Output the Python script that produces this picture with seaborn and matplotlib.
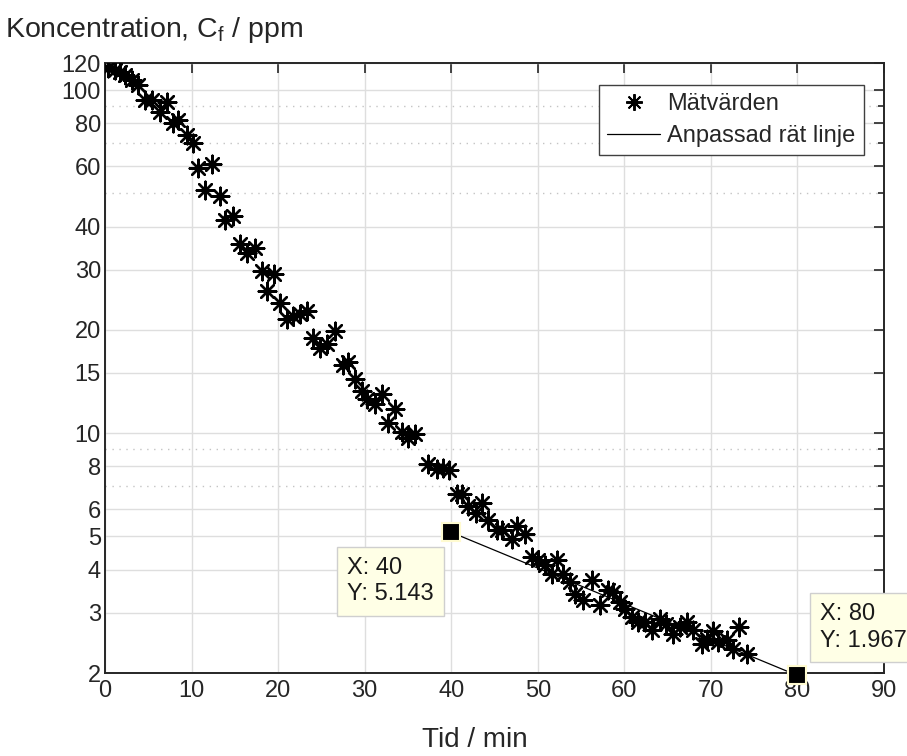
import matplotlib
matplotlib.use("Agg")
import matplotlib.pyplot as plt
from matplotlib.lines import Line2D
from matplotlib.ticker import FixedLocator, NullFormatter
import seaborn as sns

# Measured concentration over time
tid = [0.3, 1.2, 1.7, 2.3, 3.1, 3.8, 4.6, 5.4, 6.4, 7.2, 7.9, 8.4, 9.5, 10.2, 10.7,
       11.6, 12.4, 13.3, 13.9, 14.8, 15.6, 16.4, 17.3, 18.1, 18.7, 19.5, 20.2, 21.0,
       21.7, 22.5, 23.3, 24.0, 24.8, 25.6, 26.6, 27.5, 28.1, 28.9, 29.7, 30.3, 31.2,
       32.0, 32.7, 33.5, 34.3, 35.0, 35.8, 37.3, 38.4, 39.0, 39.8, 40.7, 41.2, 41.9,
       42.9, 43.5, 44.2, 45.3, 45.9, 47.0, 47.6, 48.5, 49.3, 50.0, 50.8, 51.6, 52.2,
       52.9, 53.7, 54.3, 55.2, 56.3, 57.2, 58.1, 58.7, 59.5, 60.1, 60.9, 61.6, 62.4,
       63.2, 64.1, 64.8, 65.6, 66.4, 67.2, 67.9, 69.0, 69.5, 70.2, 70.8, 71.9, 72.6,
       73.2, 74.2]
konc = [115.9, 114.4, 112.9, 110.6, 106.9, 103.4, 93.5, 93.5, 86.2, 92.2, 80.1, 81.7,
        73.9, 70.0, 59.2, 51.0, 60.8, 49.3, 41.7, 43.1, 35.7, 33.6, 34.7, 29.8, 26.0,
        29.2, 24.0, 21.5, 22.0, 22.3, 22.7, 19.0, 17.7, 18.2, 19.9, 15.8, 16.1, 14.4,
        13.3, 12.6, 12.2, 13.0, 10.7, 11.8, 10.1, 9.67, 9.93, 8.12, 7.85, 7.90, 7.80,
        6.63, 6.63, 6.12, 5.84, 6.24, 5.60, 5.24, 5.24, 4.90, 5.35, 5.10, 4.37, 4.28,
        4.14, 3.90, 4.28, 3.90, 3.69, 3.40, 3.27, 3.74, 3.16, 3.50, 3.45, 3.23, 3.08,
        2.92, 2.82, 2.82, 2.67, 2.88, 2.78, 2.60, 2.73, 2.82, 2.67, 2.43, 2.52, 2.65,
        2.47, 2.50, 2.35, 2.73, 2.27]

# Fitted straight line between the two data tips
fit_t = [40, 80]
fit_c = [5.143, 1.967]

y_ticks = [2, 3, 4, 5, 6, 8, 10, 15, 20, 30, 40, 60, 80, 100, 120]
y_minor = [7, 9, 50, 70, 90]
x_ticks = [0, 10, 20, 30, 40, 50, 60, 70, 80, 90]

sns.set_theme(style="white")
plt.rcParams["font.family"] = ["Liberation Sans", "DejaVu Sans"]
plt.rcParams["mathtext.fontset"] = "custom"
plt.rcParams["mathtext.rm"] = "Liberation Sans"
plt.rcParams["mathtext.it"] = "Liberation Sans"
plt.rcParams["mathtext.default"] = "regular"

W, H = 907, 756
fig = plt.figure(figsize=(W / 100, H / 100), dpi=100)
L, R, T, B = 105, 884, 63, 673
ax = fig.add_axes([L / W, 1 - B / H, (R - L) / W, (B - T) / H])

ast = (8, 2, 0)
sns.scatterplot(x=tid, y=konc, marker=ast, s=160, color="black", linewidth=1.7,
                ax=ax, zorder=3, legend=False)
sns.lineplot(x=fit_t, y=fit_c, color="black", linewidth=0.9, ax=ax, zorder=3,
             legend=False)

ax.set_yscale("log")
ax.set_xlim(0, 90)
ax.set_ylim(2, 120)
ax.yaxis.set_major_locator(FixedLocator(y_ticks))
ax.set_yticklabels([str(v) for v in y_ticks])
ax.yaxis.set_minor_locator(FixedLocator(y_minor))
ax.yaxis.set_minor_formatter(NullFormatter())
ax.set_xticks(x_ticks)
ax.set_xticklabels([str(v) for v in x_ticks])

ax.grid(which="major", color="#dedede", linewidth=1.0)
ax.grid(which="minor", axis="y", color="#c4c4c4", linewidth=1.0, linestyle=(0, (1, 4)))
ax.set_axisbelow(True)

ax.tick_params(which="both", direction="in", top=True, right=True,
               colors="#262626", labelcolor="#262626", width=1.2)
ax.tick_params(which="major", length=7, labelsize=17)
ax.tick_params(axis="y", which="major", pad=3)
ax.tick_params(axis="x", which="major", pad=5)
ax.tick_params(which="minor", length=4)
for s in ax.spines.values():
    s.set_color("#262626")
    s.set_linewidth(1.4)

ax.set_xlabel("Tid / min", fontsize=20, color="#262626", va="center")
ax.xaxis.set_label_coords((475 - L) / (R - L), (B - 740) / (B - T))
fig.text(5 / W, 1 - 30 / H, "Koncentration, C$_{f}$ / ppm", fontsize=20.5,
         color="#262626", va="center", ha="left")

handles = [Line2D([], [], marker=ast, linestyle="", color="black", markersize=12,
                  markeredgewidth=1.4),
           Line2D([], [], color="black", linewidth=0.9)]
leg = ax.legend(handles, ["Mätvärden", "Anpassad rät linje"], loc="upper right",
                bbox_to_anchor=((864 - L) / (R - L), (B - 85) / (B - T)),
                borderaxespad=0, fontsize=17, frameon=True, fancybox=False,
                framealpha=1, edgecolor="#404040", handlelength=2.25,
                handletextpad=0.3, labelspacing=0.42, borderpad=0.35)
leg.get_frame().set_linewidth(1.0)

# Data tips on the fitted line
for (xt, yt), off, txt in [((fit_t[0], fit_c[0]), (-104, -49), f"X: {fit_t[0]}\nY: {fit_c[0]}"),
                           ((fit_t[1], fit_c[1]), (23, 48), f"X: {fit_t[1]}\nY: {fit_c[1]}")]:
    ax.plot(xt, yt, marker="s", markersize=13, markerfacecolor="black",
            markeredgecolor="#fffbd0", markeredgewidth=1.5, zorder=5, clip_on=False)
    ax.annotate(txt, xy=(xt, yt), xytext=off, textcoords="offset pixels",
                ha="left", va="center", fontsize=17, color="#1a1a1a",
                linespacing=1.25, annotation_clip=False, zorder=6,
                bbox=dict(boxstyle="square,pad=0.45", fc="#ffffe6", ec="#cfcfcf", lw=1))

fig.savefig("out.png", dpi=100)
